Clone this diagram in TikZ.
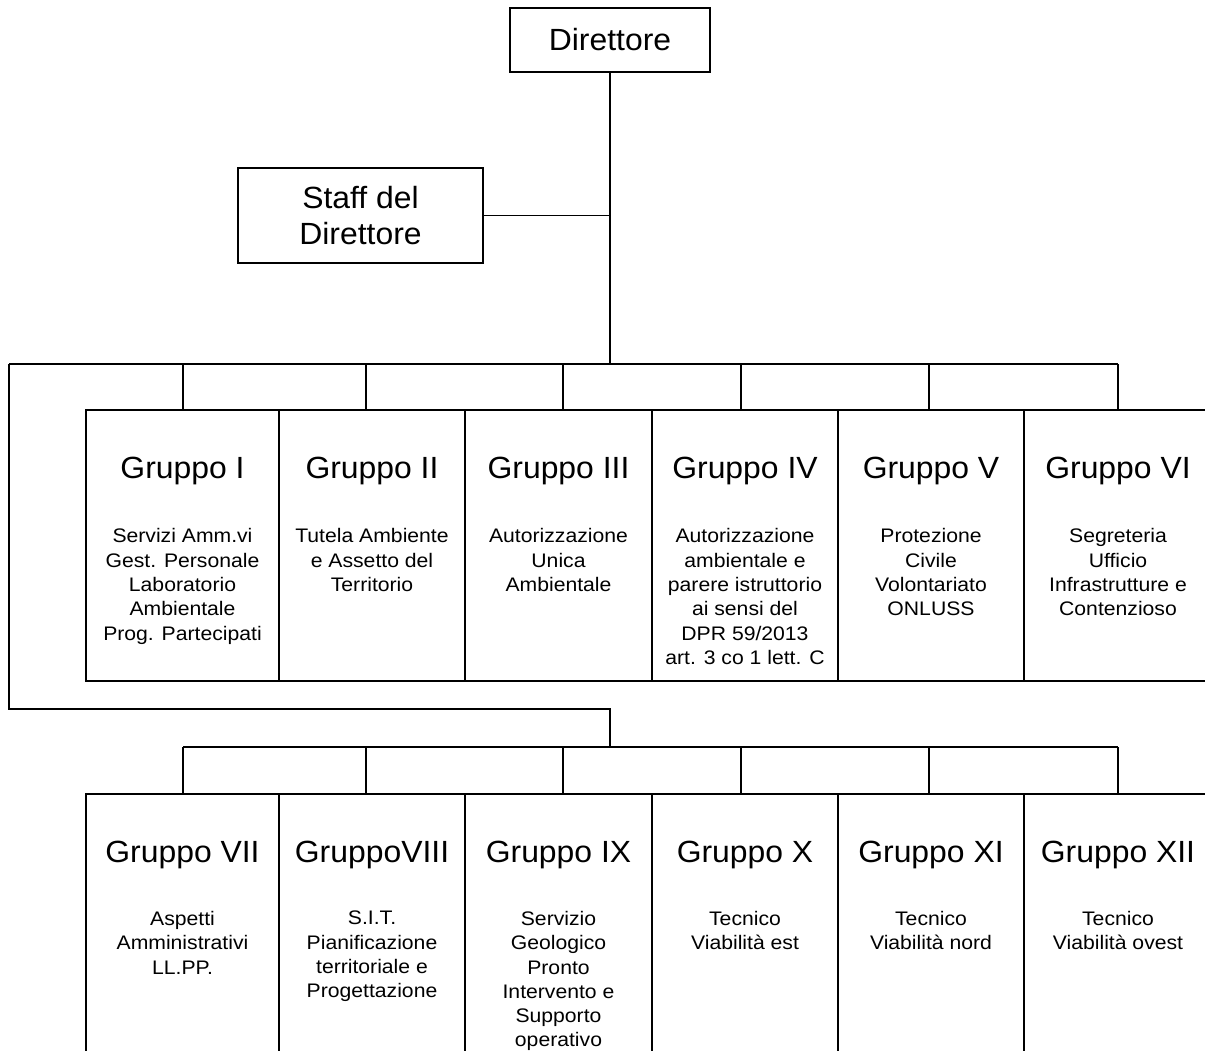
\documentclass[tikz,border=0pt]{standalone}
\usepackage{fontspec}
\setmainfont{Liberation Sans}
\newfontfamily\ttlfont{Liberation Sans}[FakeStretch=1.04]
\newfontfamily\subfont{Liberation Sans}[FakeStretch=1.08]
\begin{document}
\begin{tikzpicture}[x=0.75pt,y=-0.75pt,
  conn/.style={line width=1.1pt},
  topbox/.style 2 args={draw, line width=1.4pt, minimum width=#1*0.75pt, minimum height=#2*0.75pt, inner sep=0pt, outer sep=0pt, align=center, font=\ttlfont\fontsize{23pt}{27pt}\selectfont},
  gbox/.style={draw, line width=1.4pt, minimum width=#1*0.75pt, minimum height=271*0.75pt, inner sep=0pt, outer sep=0pt},
  gboxb/.style={draw, line width=1.4pt, minimum width=#1*0.75pt, minimum height=276*0.75pt, inner sep=0pt, outer sep=0pt},
  ttl/.style={anchor=base, inner sep=0pt, font=\ttlfont\fontsize{23pt}{27pt}\selectfont},
  sub/.style={anchor=north, inner sep=0pt, align=center, font=\subfont\fontsize{14.7pt}{18.2pt}\selectfont}
]
\clip (0,0) rectangle (1205,1050);
\fill[white] (0,0) rectangle (1205,1050);

% top boxes
\node[topbox={200}{64}] (dir) at (610,40) {Direttore};
\node[topbox={245}{95}] (staff) at (360.5,215.5) {Staff del\\Direttore};

% first row of groups
\node[gbox=193] (g1) at (182.5,545.5) {};
\node[gbox=186] (g2) at (372,545.5) {};
\node[gbox=187] (g3) at (558.5,545.5) {};
\node[gbox=186] (g4) at (745,545.5) {};
\node[gbox=186] (g5) at (931,545.5) {};
\node[gbox=188] (g6) at (1118,545.5) {};

% second row of groups
\node[gboxb=193] (g7) at (182.5,932) {};
\node[gboxb=186] (g8) at (372,932) {};
\node[gboxb=187] (g9) at (558.5,932) {};
\node[gboxb=186] (g10) at (745,932) {};
\node[gboxb=186] (g11) at (931,932) {};
\node[gboxb=188] (g12) at (1118,932) {};

% titles
\foreach \n/\t in {1/Gruppo I,2/Gruppo II,3/Gruppo III,4/Gruppo IV,5/Gruppo V,6/Gruppo VI,7/Gruppo VII,8/GruppoVIII,9/Gruppo IX,10/Gruppo X,11/Gruppo XI,12/Gruppo XII}
  \node[ttl] (t\n) at ([yshift=-68*0.75pt]g\n.north) {\t};

% descriptions
\node[sub] (s1) at ([yshift=-118.5*0.75pt]g1.north) {Servizi Amm.vi\\Gest. Personale\\Laboratorio\\Ambientale\\Prog. Partecipati};
\node[sub] (s2) at ([yshift=-118.5*0.75pt]g2.north) {Tutela Ambiente\\e Assetto del\\Territorio};
\node[sub] (s3) at ([yshift=-118.5*0.75pt]g3.north) {Autorizzazione\\Unica\\Ambientale};
\node[sub] (s4) at ([yshift=-118.5*0.75pt]g4.north) {Autorizzazione\\ambientale e\\parere istruttorio\\ai sensi del\\DPR 59/2013\\art. 3 co 1 lett. C};
\node[sub] (s5) at ([yshift=-118.5*0.75pt]g5.north) {Protezione\\Civile\\Volontariato\\ONLUSS};
\node[sub] (s6) at ([yshift=-118.5*0.75pt]g6.north) {Segreteria\\Ufficio\\Infrastrutture e\\Contenzioso};
\node[sub] (s7) at ([yshift=-117*0.75pt]g7.north) {Aspetti\\Amministrativi\\LL.PP.};
\node[sub] (s8) at ([yshift=-117*0.75pt]g8.north) {S.I.T.\\Pianificazione\\territoriale e\\Progettazione};
\node[sub] (s9) at ([yshift=-117*0.75pt]g9.north) {Servizio\\Geologico\\Pronto\\Intervento e\\Supporto\\operativo};
\node[sub] (s10) at ([yshift=-117*0.75pt]g10.north) {Tecnico\\Viabilità est};
\node[sub] (s11) at ([yshift=-117*0.75pt]g11.north) {Tecnico\\Viabilità nord};
\node[sub] (s12) at ([yshift=-117*0.75pt]g12.north) {Tecnico\\Viabilità ovest};

% connector points
\coordinate (busL) at (9,364);
\coordinate (busM) at (610,364);
\coordinate (busR) at (1118,364);
\coordinate (lp) at (9,709);
\coordinate (lq) at (610,709);
\coordinate (bbM) at (610,747);
\coordinate (bbL) at (183,747);
\coordinate (bbR) at (1118,747);

% trunk and staff
\draw[conn] (dir.south) -- (busM);
\draw[conn] (staff.east) -- (staff.east -| dir.south);

% first bus
\draw[conn] (busL) -- (busR);
\foreach \n/\x in {1/183,2/366,3/563,4/741,5/929,6/1118}{
  \coordinate (d\n) at (\x,364);
  \draw[conn] (d\n) -- (d\n |- g\n.north);
}

% loop to second bus
\draw[conn] (busL) -- (lp) -- (lq) -- (bbM);
\draw[conn] (bbL) -- (bbR);
\foreach \n/\x in {7/183,8/366,9/563,10/741,11/929,12/1118}{
  \coordinate (e\n) at (\x,747);
  \draw[conn] (e\n) -- (e\n |- g\n.north);
}
\end{tikzpicture}
\end{document}
